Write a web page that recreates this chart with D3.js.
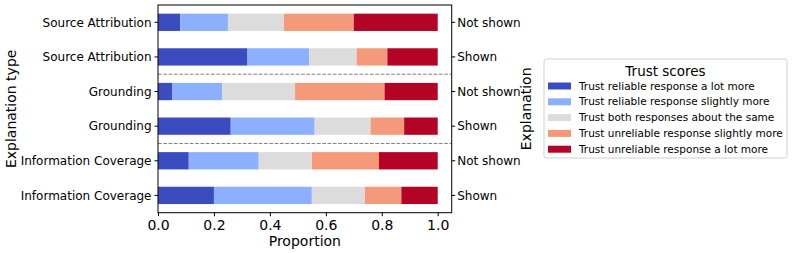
<!DOCTYPE html>
<html>
<head>
<meta charset="utf-8">
<title>Trust scores by explanation type</title>
<script src="https://d3js.org/d3.v7.min.js"></script>
<style>
  body { margin: 0; background: #fff; }
  text { font-family: 'DejaVu Sans', sans-serif; fill: #000; }
</style>
</head>
<body>
<div id="chart"></div>
<script>
// rows, top to bottom
var explanationType = ["Source Attribution", "Source Attribution", "Grounding", "Grounding", "Information Coverage", "Information Coverage"];
var explanationShown = ["Not shown", "Shown", "Not shown", "Shown", "Not shown", "Shown"];

// proportion of each trust score per row
var reliableLot      = [0.08, 0.32, 0.05, 0.26, 0.11, 0.20];
var reliableSlight   = [0.17, 0.22, 0.18, 0.30, 0.25, 0.35];
var bothSame         = [0.20, 0.17, 0.26, 0.20, 0.19, 0.19];
var unreliableSlight = [0.25, 0.11, 0.32, 0.12, 0.24, 0.13];
var unreliableLot    = [0.30, 0.18, 0.19, 0.12, 0.21, 0.13];

var seriesNames = [
  "Trust reliable response a lot more",
  "Trust reliable response slightly more",
  "Trust both responses about the same",
  "Trust unreliable response slightly more",
  "Trust unreliable response a lot more"
];
var seriesColors = ["#3b4cc0", "#8db0fe", "#dddcdc", "#f49a7b", "#b40426"];
var xTicks = [0, 0.2, 0.4, 0.6, 0.8, 1.0];

var width = 793, height = 253;
var plot = {left: 158, right: 451.7, top: 5, bottom: 212.7};

var svg = d3.select("#chart").append("svg")
  .attr("width", width)
  .attr("height", height);

// build a table for the stack layout
var keys = ["k0", "k1", "k2", "k3", "k4"];
var allSeries = [reliableLot, reliableSlight, bothSame, unreliableSlight, unreliableLot];
var rows = explanationType.map(function(t, i) {
  var r = {row: i};
  keys.forEach(function(k, j) { r[k] = allSeries[j][i]; });
  return r;
});
var stacked = d3.stack().keys(keys)(rows);

var x = d3.scaleLinear().domain([0, 1.05]).range([plot.left, plot.right]);
var y = d3.scaleBand()
  .domain(d3.range(rows.length))
  .range([plot.top, plot.bottom])
  .paddingInner(0.5)
  .paddingOuter(0.25);

// bars
svg.append("g").selectAll("g")
  .data(stacked)
  .join("g")
    .attr("fill", function(d, i) { return seriesColors[i]; })
  .selectAll("rect")
  .data(function(d) { return d; })
  .join("rect")
    .attr("x", function(d) { return x(d[0]); })
    .attr("width", function(d) { return x(d[1]) - x(d[0]); })
    .attr("y", function(d) { return y(d.data.row); })
    .attr("height", y.bandwidth());

// dashed separators between explanation types
var sepRows = [2, 4];
svg.append("g").selectAll("line")
  .data(sepRows)
  .join("line")
    .attr("x1", plot.left).attr("x2", plot.right)
    .attr("y1", function(d) { return y(d) - y.step() * y.paddingInner() / 2; })
    .attr("y2", function(d) { return y(d) - y.step() * y.paddingInner() / 2; })
    .attr("stroke", "#808080")
    .attr("stroke-width", 1)
    .attr("stroke-dasharray", "3.7,1.6");

// axes
var xAxis = svg.append("g")
  .attr("transform", "translate(0," + plot.bottom + ")")
  .call(d3.axisBottom(x).tickValues(xTicks).tickFormat(d3.format(".1f")).tickSizeOuter(0).tickSize(3.5).tickPadding(3.5));
xAxis.selectAll("text").style("font-size", "14px");

var yPos = function(i) { return y(i) + y.bandwidth() / 2; };
var yLeft = svg.append("g")
  .attr("transform", "translate(" + plot.left + ",0)");
yLeft.selectAll("line").data(explanationType).join("line")
  .attr("x1", -3.5).attr("x2", 0)
  .attr("y1", function(d, i) { return yPos(i); })
  .attr("y2", function(d, i) { return yPos(i); })
  .attr("stroke", "#000");
yLeft.selectAll("text").data(explanationType).join("text")
  .attr("x", -6.5)
  .attr("y", function(d, i) { return yPos(i); })
  .attr("dy", "0.35em")
  .attr("text-anchor", "end")
  .style("font-size", "12px")
  .text(function(d) { return d; });

var yRight = svg.append("g")
  .attr("transform", "translate(" + plot.right + ",0)");
yRight.selectAll("line").data(explanationShown).join("line")
  .attr("x1", 0).attr("x2", 3.5)
  .attr("y1", function(d, i) { return yPos(i); })
  .attr("y2", function(d, i) { return yPos(i); })
  .attr("stroke", "#000");
yRight.selectAll("text").data(explanationShown).join("text")
  .attr("x", 5.5)
  .attr("y", function(d, i) { return yPos(i); })
  .attr("dy", "0.35em")
  .style("font-size", "12px")
  .text(function(d) { return d; });

// frame
svg.append("rect")
  .attr("x", plot.left).attr("y", plot.top)
  .attr("width", plot.right - plot.left)
  .attr("height", plot.bottom - plot.top)
  .attr("fill", "none")
  .attr("stroke", "#000")
  .attr("stroke-width", 1);
xAxis.select(".domain").remove();

// axis titles
svg.append("text")
  .attr("x", (plot.left + plot.right) / 2)
  .attr("y", 246)
  .attr("text-anchor", "middle")
  .style("font-size", "14px")
  .text("Proportion");

svg.append("text")
  .attr("transform", "translate(16," + (plot.top + plot.bottom) / 2 + ") rotate(-90)")
  .attr("text-anchor", "middle")
  .style("font-size", "14px")
  .text("Explanation type");

svg.append("text")
  .attr("transform", "translate(531," + (plot.top + plot.bottom) / 2 + ") rotate(-90)")
  .attr("text-anchor", "middle")
  .style("font-size", "14px")
  .text("Explanation");

// legend
var legend = svg.append("g").attr("transform", "translate(544,59)");
legend.append("rect")
  .attr("x", 0).attr("y", 0)
  .attr("width", 243).attr("height", 99)
  .attr("rx", 2.5)
  .attr("fill", "#fff")
  .attr("stroke", "#d0d0d0")
  .attr("stroke-width", 1);
legend.append("text")
  .attr("x", 121.5).attr("y", 17)
  .attr("text-anchor", "middle")
  .style("font-size", "13.5px")
  .text("Trust scores");
var items = legend.selectAll("g.item").data(seriesNames).join("g")
  .attr("class", "item")
  .attr("transform", function(d, i) { return "translate(0," + (27 + i * 15.8) + ")"; });
items.append("rect")
  .attr("x", 4).attr("y", -3.5)
  .attr("width", 23).attr("height", 7)
  .attr("fill", function(d, i) { return seriesColors[i]; });
items.append("text")
  .attr("x", 35).attr("y", 0)
  .attr("dy", "0.35em")
  .style("font-size", "10.5px")
  .text(function(d) { return d; });
</script>
</body>
</html>
